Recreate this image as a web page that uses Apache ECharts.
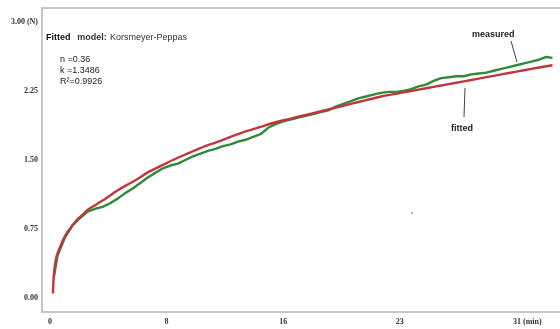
<!DOCTYPE html>
<html>
<head>
<meta charset="utf-8">
<script src="https://cdn.jsdelivr.net/npm/echarts@6/dist/echarts.min.js"></script>
<style>
  html, body { margin: 0; padding: 0; background: #fff; }
  #chart-fit { width: 560px; height: 329px; }
</style>
</head>
<body>
<div id="chart-fit"></div>
<script>
// x ticks (min) and y ticks (N)
const xTicks = [0, 7.75, 15.5, 23.25, 31];
const yTicks = [0, 0.75, 1.5, 2.25, 3];

// measured force curve
const measTime = [0.25, 0.5, 1, 1.5, 2, 2.5, 3, 3.5, 4, 4.5, 5, 5.5, 6, 6.5, 7, 7.5, 8, 8.5, 9, 9.5,
  10, 10.5, 11, 11.5, 12, 12.5, 13, 13.5, 14, 14.5, 15, 15.5, 16, 16.5, 17, 17.5, 18, 18.5, 19, 19.5,
  20, 20.5, 21, 21.5, 22, 22.5, 23, 23.5, 24, 24.5, 25, 25.5, 26, 26.5, 27, 27.5, 28, 28.5, 29, 29.5,
  30, 30.5, 31, 31.5, 32, 32.5, 33, 33.4];
const measValue = [0.22, 0.46, 0.66, 0.79, 0.87, 0.94, 0.97, 0.99, 1.03, 1.08, 1.14, 1.19, 1.25, 1.31, 1.36, 1.41, 1.44, 1.46, 1.50, 1.54,
  1.57, 1.60, 1.62, 1.65, 1.67, 1.70, 1.72, 1.75, 1.78, 1.85, 1.89, 1.92, 1.94, 1.96, 1.98, 2.00, 2.02, 2.04, 2.08, 2.11,
  2.14, 2.17, 2.19, 2.21, 2.23, 2.24, 2.24, 2.25, 2.27, 2.30, 2.32, 2.36, 2.39, 2.40, 2.41, 2.41, 2.43, 2.44, 2.45, 2.47,
  2.49, 2.51, 2.53, 2.55, 2.57, 2.59, 2.62, 2.61];

// fitted Korsmeyer-Peppas curve
const fitTime = [0.2, 0.22, 0.27, 0.33, 0.45, 0.66, 0.9, 1.13, 1.5, 1.79, 2.2, 2.52, 3.1, 3.79, 4.4, 5.12, 5.8, 6.45, 7.3, 8.17,
  9, 10, 11, 12, 13, 14, 15, 16, 17, 18, 19, 20, 21, 22, 23, 24, 25, 26, 27, 28, 29, 30, 31, 32, 33.4];
const fitValue = [0.05, 0.15, 0.27, 0.36, 0.46, 0.55, 0.64, 0.71, 0.79, 0.85, 0.91, 0.96, 1.02, 1.09, 1.16, 1.23, 1.29, 1.36, 1.43, 1.50,
  1.56, 1.63, 1.69, 1.75, 1.81, 1.86, 1.91, 1.95, 1.99, 2.03, 2.07, 2.11, 2.15, 2.19, 2.22, 2.25, 2.28, 2.31, 2.34, 2.37, 2.40, 2.43, 2.46, 2.49, 2.53];

let chart = echarts.init(document.getElementById("chart-fit"));

const labelFont = {
  fontFamily: "Liberation Serif",
  fontWeight: "bold",
  fontSize: 8,
  color: "#333",
};
const noteFont = "Liberation Sans";
const frameColor = "#b5b5b5";
const xMin = -0.53;
const xMax = 33.9;

chart.setOption({
  animation: false,
  grid: {
    left: 42,
    right: 0,
    top: 8,
    bottom: 17,
  },
  xAxis: [
    {
      type: "value",
      min: xMin,
      max: xMax,
      splitLine: { show: false },
      axisTick: { show: false },
      axisLine: { onZero: false, lineStyle: { color: frameColor, width: 1.5 } },
      axisLabel: Object.assign({}, labelFont, {
        customValues: xTicks,
        margin: 6,
        formatter: function (value) {
          if (value === 31) return "{p| }31 (min)";
          return String(Math.round(value));
        },
        rich: { p: { width: 22 } },
      }),
    },
    {
      // top frame line only
      type: "value",
      position: "top",
      min: xMin,
      max: xMax,
      splitLine: { show: false },
      axisTick: { show: false },
      axisLabel: { show: false },
      axisLine: { onZero: false, lineStyle: { color: frameColor, width: 1.5 } },
    },
  ],
  yAxis: {
    type: "value",
    min: -0.152,
    max: 3.152,
    splitLine: { show: false },
    axisTick: { show: false },
    axisLine: { onZero: false, lineStyle: { color: frameColor, width: 1.5 } },
    axisLabel: Object.assign({}, labelFont, {
      customValues: yTicks,
      margin: 4,
      formatter: function (value) {
        return value === 3 ? "3.00 (N)" : value.toFixed(2);
      },
    }),
  },
  graphic: [
    {
      type: "text",
      left: 46,
      top: 32,
      style: {
        text: "{b|Fitted}  {m|model:} {n|Korsmeyer-Peppas}",
        rich: {
          b: { fontFamily: noteFont, fontWeight: "bold", fontSize: 9, fill: "#111" },
          m: { fontFamily: noteFont, fontWeight: "bold", fontSize: 9, fill: "#333" },
          n: { fontFamily: noteFont, fontSize: 9, fill: "#333" },
        },
      },
    },
    {
      type: "text",
      left: 60,
      top: 54,
      style: {
        text: "n =0.36\nk =1.3486\nR\u00b2=0.9926",
        font: "9px " + noteFont,
        lineHeight: 11,
        fill: "#222",
      },
    },
    {
      type: "text",
      left: 472,
      top: 30,
      style: { text: "measured", font: "bold 9px " + noteFont, fill: "#222" },
    },
    {
      type: "text",
      left: 451,
      top: 124,
      style: { text: "fitted", font: "bold 9px " + noteFont, fill: "#222" },
    },
    {
      type: "line",
      shape: { x1: 511, y1: 41, x2: 517, y2: 62 },
      style: { stroke: "#444", lineWidth: 1 },
    },
    {
      type: "line",
      shape: { x1: 465, y1: 88, x2: 464, y2: 117 },
      style: { stroke: "#444", lineWidth: 1 },
    },
    {
      type: "circle",
      shape: { cx: 412, cy: 213, r: 0.8 },
      style: { fill: "#555" },
    },
  ],
  series: [
    {
      type: "line",
      name: "measured",
      data: measTime.map((t, i) => [t, measValue[i]]),
      showSymbol: false,
      lineStyle: { color: "#2f8a3a", width: 2.4 },
      z: 2,
    },
    {
      type: "line",
      name: "fitted",
      data: fitTime.map((t, i) => [t, fitValue[i]]),
      showSymbol: false,
      smooth: 0.3,
      lineStyle: { color: "#c0363c", width: 2.4 },
      z: 3,
    },
  ],
});
</script>
</body>
</html>
